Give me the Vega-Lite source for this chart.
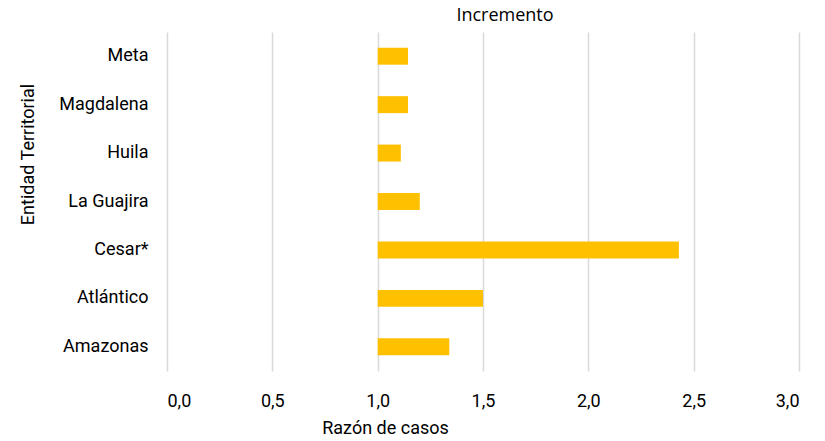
{
  "$schema": "https://vega.github.io/schema/vega-lite/v6.json",
  "autosize": {"type": "none"},
  "width": 632,
  "height": 339,
  "padding": {"left": 167, "top": 32, "right": 26, "bottom": 70},
  "background": "white",
  "title": {
    "text": "Incremento",
    "font": "Open Sans",
    "fontSize": 18,
    "fontWeight": "normal",
    "color": "#000000",
    "anchor": "middle",
    "frame": "group",
    "dx": 22,
    "dy": 17,
    "baseline": "alphabetic",
    "offset": 10
  },
  "data": {
    "values": [
      {"entidad": "Meta", "razon": 1.144},
      {"entidad": "Magdalena", "razon": 1.144},
      {"entidad": "Huila", "razon": 1.11},
      {"entidad": "La Guajira", "razon": 1.2},
      {"entidad": "Cesar*", "razon": 2.43},
      {"entidad": "Atlántico", "razon": 1.5},
      {"entidad": "Amazonas", "razon": 1.34}
    ]
  },
  "mark": {"type": "bar", "color": "#FFC000"},
  "encoding": {
    "y": {
      "field": "entidad",
      "type": "nominal",
      "sort": ["Meta", "Magdalena", "Huila", "La Guajira", "Cesar*", "Atlántico", "Amazonas"],
      "scale": {"paddingInner": 0.65, "paddingOuter": 0.325},
      "axis": {
        "title": "Entidad Territorial",
        "titleFont": "Roboto",
        "titleFontSize": 18,
        "titleFontWeight": "normal",
        "titleColor": "#000000",
        "titleX": -139,
        "titleY": 122,
        "titleAngle": -90,
        "titleAlign": "center",
        "titleBaseline": "middle",
        "labelFont": "Roboto",
        "labelFontSize": 18,
        "labelColor": "#000000",
        "labelPadding": 19,
        "domain": false,
        "ticks": false,
        "grid": false
      }
    },
    "x": {
      "field": "razon",
      "type": "quantitative",
      "scale": {"domain": [0, 3], "nice": false, "zero": true},
      "axis": {
        "title": "Razón de casos",
        "titleFont": "Roboto",
        "titleFontSize": 18,
        "titleFontWeight": "normal",
        "titleColor": "#000000",
        "titleX": 218,
        "titleY": 57,
        "titleAlign": "center",
        "titleBaseline": "middle",
        "values": [0, 0.5, 1, 1.5, 2, 2.5, 3],
        "labelExpr": "replace(format(datum.value, '.1f'), '.', ',')",
        "labelFont": "Roboto",
        "labelFontSize": 18,
        "labelColor": "#000000",
        "labelPadding": 21,
        "domain": false,
        "ticks": false,
        "grid": true,
        "gridColor": "#d9d9d9",
        "gridWidth": 1.5
      }
    },
    "x2": {"datum": 1}
  },
  "config": {"view": {"stroke": null}}
}
